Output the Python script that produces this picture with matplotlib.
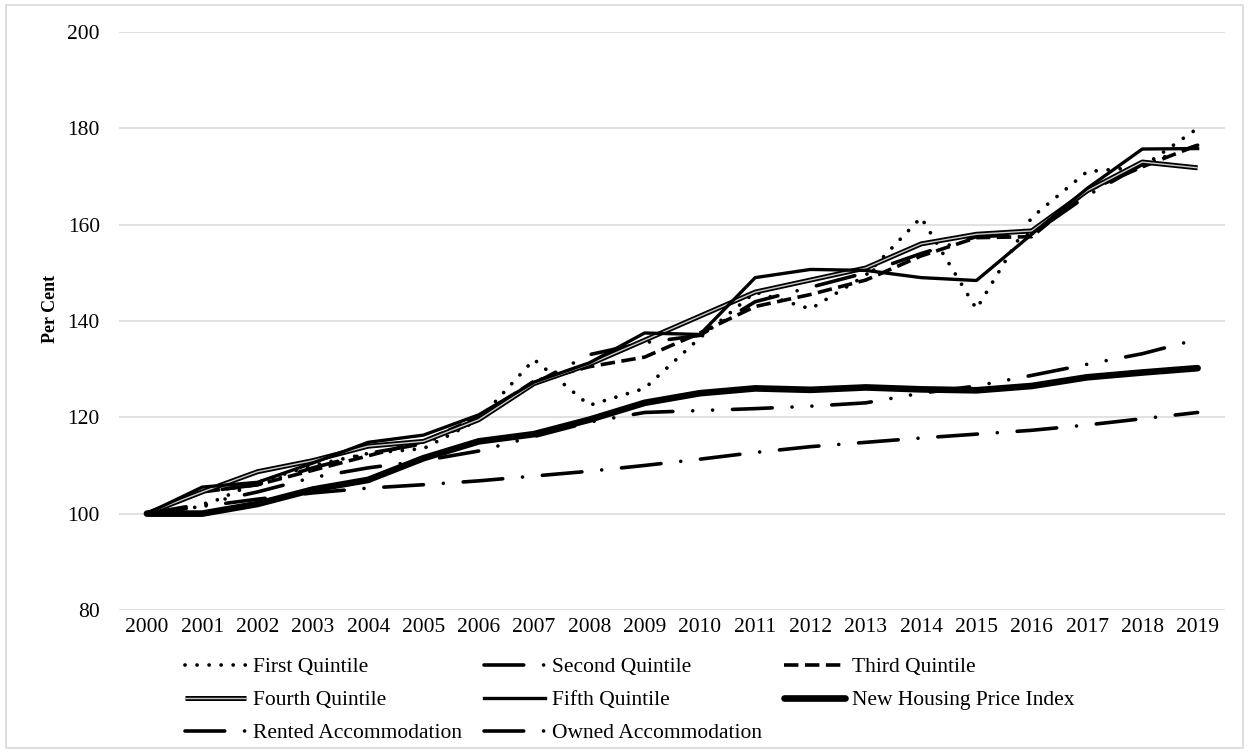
import matplotlib
matplotlib.use("Agg")
import matplotlib.pyplot as plt
import matplotlib.patheffects as pe
from matplotlib.patches import Rectangle

plt.rcParams['font.family'] = ['Liberation Serif', 'DejaVu Serif']

years = [str(y) for y in range(2000, 2020)]

first_q = [100, 101.5, 106.5, 110, 112.5, 113.5, 119.5, 132, 122.5, 126,
           136.5, 146, 142.5, 149.5, 161.5, 142.5, 161.5, 171, 172, 180]
second_q = [100, 104.5, 106, 109.5, 112.5, 114.5, 119.5, 127, 133, 135.5,
            137, 144, 147, 150, 154, 157.5, 158, 166, 172.5, 176.5]
third_q = [100, 104.5, 106, 109, 112, 115, 120, 127.5, 130.5, 132.5,
           137.5, 143, 145.5, 148.5, 153.5, 157.3, 157.5, 167, 172, 176.5]
fourth_q = [100, 104.5, 108.7, 111, 114, 115, 119.5, 127, 131, 136,
            141, 146, 148.5, 151, 156, 158, 158.7, 167, 173, 171.8]
fifth_q = [100, 105.5, 106.5, 110.5, 114.8, 116.3, 120.5, 127.3, 131.3, 137.5,
           137.2, 149, 150.7, 150.5, 149, 148.4, 158, 167.5, 175.7, 175.8]
nhpi = [100, 100, 102, 105, 107, 111.5, 115, 116.5, 119.5, 123,
        125, 126, 125.7, 126.2, 125.8, 125.6, 126.5, 128.3, 129.3, 130.2]
rented = [100, 101.5, 103, 104.3, 105.3, 106, 106.8, 107.8, 108.8, 110,
          111.3, 112.7, 113.9, 114.8, 115.7, 116.5, 117.3, 118.4, 119.7, 121]
owned = [100, 102, 104.5, 107.5, 109.5, 111, 113, 116, 119, 121,
         121.4, 121.8, 122.3, 123, 125, 126.5, 128.7, 131, 133.2, 136.2]

fig = plt.figure(figsize=(12.49, 7.53), dpi=100)
ax = fig.add_axes([0.0955, 0.19, 0.8855, 0.7675])

x = list(range(len(years)))

dashdot = (0, (11, 5.5, 0.01, 5.5))

l1, = ax.plot(x, first_q, color='black', lw=2.7, linestyle=(0, (0.01, 3.2)),
              dash_capstyle='round', label='First Quintile')
l2, = ax.plot(x, second_q, color='black', lw=2.6, linestyle=dashdot,
              dash_capstyle='round', label='Second Quintile')
l3, = ax.plot(x, third_q, color='black', lw=2.6, linestyle=(0, (4, 1.8)),
              dash_capstyle='butt', label='Third Quintile')
l4, = ax.plot(x, fourth_q, color='#c8c8c8', lw=1.0, solid_capstyle='butt',
              path_effects=[pe.Stroke(linewidth=3.6, foreground='black'), pe.Normal()],
              label='Fourth Quintile')
l5, = ax.plot(x, fifth_q, color='black', lw=2.4, label='Fifth Quintile')
l6, = ax.plot(x, nhpi, color='black', lw=4.8, solid_capstyle='round',
              label='New Housing Price Index')
l7, = ax.plot(x, rented, color='black', lw=2.6, linestyle=dashdot,
              dash_capstyle='round', label='Rented Accommodation')
l8, = ax.plot(x, owned, color='black', lw=2.6,
              linestyle=(0, (11, 5.5, 0.01, 5.5, 0.01, 5.5)),
              dash_capstyle='round', label='Owned Accommodation')

ax.set_xlim(-0.5, len(years) - 0.5)
ax.set_ylim(80, 200)
ax.set_yticks(range(80, 201, 20))
ax.set_xticks(x)
ax.set_xticklabels(years)
ax.tick_params(axis='both', length=0, labelsize=15.5)
ax.tick_params(axis='y', pad=14)
ax.tick_params(axis='x', pad=6)
ax.grid(axis='y', color='#d9d9d9', lw=1.1)
ax.set_axisbelow(True)
for s in ax.spines.values():
    s.set_visible(False)

ax.set_ylabel('Per Cent', fontsize=13, fontweight='bold')
ax.yaxis.set_label_coords(-0.0545, 0.52)

# row-wise order for a 3-column legend
order = [l1, l4, l7, l2, l5, l8, l3, l6]
leg = fig.legend(order, [h.get_label() for h in order], ncol=3, loc='upper left',
                 bbox_to_anchor=(0.148, 0.127), frameon=False, fontsize=15.5,
                 handlelength=2.85, handletextpad=0.33, columnspacing=1.0,
                 labelspacing=0.6, borderaxespad=0, borderpad=0)

fig.patches.append(Rectangle((0.005, 0.006), 0.99, 0.988, transform=fig.transFigure,
                             fill=False, edgecolor='#d9d9d9', lw=1.2))

fig.savefig('out.png', dpi=100)
